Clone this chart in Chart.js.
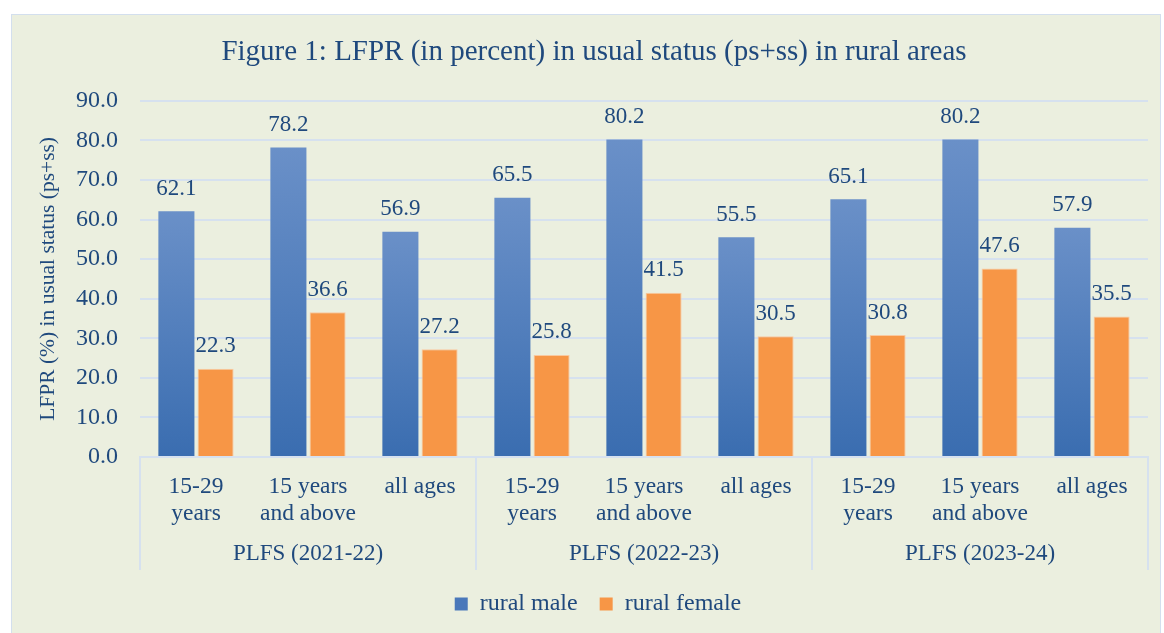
<!DOCTYPE html>
<html lang="en">
<head>
    <meta charset="UTF-8">
    <title>LFPR in rural areas</title>
    <script src="https://cdn.jsdelivr.net/npm/chart.js"></script>
    <style>
        body {
            margin: 0;
            padding: 0;
            background-color: #ffffff;
            overflow: hidden;
        }
        .frame {
            position: absolute;
            left: 11px;
            top: 14px;
            width: 1148px;
            height: 630px;
            background-color: #EBEFDF;
            border: 1px solid #D3DFEE;
        }
        canvas {
            display: block;
        }
    </style>
</head>
<body>
    <div class="frame">
        <canvas id="lfprChart" width="1148" height="630"></canvas>
    </div>
    <script>
        // data
        const categories = [
            ['15-29', 'years'], ['15 years', 'and above'], ['all ages'],
            ['15-29', 'years'], ['15 years', 'and above'], ['all ages'],
            ['15-29', 'years'], ['15 years', 'and above'], ['all ages']
        ];
        const groups = ['PLFS (2021-22)', 'PLFS (2022-23)', 'PLFS (2023-24)'];
        const ruralMale = [62.1, 78.2, 56.9, 65.5, 80.2, 55.5, 65.1, 80.2, 57.9];
        const ruralFemale = [22.3, 36.6, 27.2, 25.8, 41.5, 30.5, 30.8, 47.6, 35.5];
        const yTicks = [0, 10, 20, 30, 40, 50, 60, 70, 80, 90];

        const textColor = '#1F497D';
        const lineColor = '#D6E1EF';
        const serif = '"Liberation Serif", "Times New Roman", serif';

        function blueGradient(context) {
            const chart = context.chart;
            const y = chart.scales.y;
            if (!chart.chartArea || !y || context.raw === undefined) return '#4F7CBE';
            const top = y.getPixelForValue(context.raw);
            const bottom = y.getPixelForValue(0);
            const g = chart.ctx.createLinearGradient(0, top, 0, bottom);
            g.addColorStop(0, '#6A90C8');
            g.addColorStop(1, '#3A6DB0');
            return g;
        }

        // title and legend sit a little right of the canvas centre in the original
        const nudgeBlocks = {
            id: 'nudgeBlocks',
            afterLayout(chart) {
                if (chart.titleBlock) {
                    chart.titleBlock.left += 14;
                    chart.titleBlock.right += 14;
                }
                if (chart.legend) {
                    chart.legend.left += 18;
                    chart.legend.right += 18;
                }
            }
        };

        // value labels above each bar
        const valueLabels = {
            id: 'valueLabels',
            afterDatasetsDraw(chart) {
                const ctx = chart.ctx;
                ctx.save();
                ctx.font = '23px ' + serif;
                ctx.fillStyle = textColor;
                ctx.textAlign = 'center';
                ctx.textBaseline = 'bottom';
                chart.data.datasets.forEach((ds, i) => {
                    chart.getDatasetMeta(i).data.forEach((bar, j) => {
                        ctx.fillText(ds.data[j].toFixed(1), bar.x, bar.y - 11);
                    });
                });
                ctx.restore();
            }
        };

        // group labels and dividers under the category axis
        const groupAxis = {
            id: 'groupAxis',
            afterDraw(chart) {
                const ctx = chart.ctx;
                const x = chart.scales.x;
                const area = chart.chartArea;
                const step = x.getPixelForValue(1) - x.getPixelForValue(0);
                const per = categories.length / groups.length;
                ctx.save();
                ctx.strokeStyle = lineColor;
                ctx.lineWidth = 2;
                for (let g = 0; g <= groups.length; g++) {
                    const px = x.getPixelForValue(g * per) - step / 2;
                    ctx.beginPath();
                    ctx.moveTo(px, area.bottom);
                    ctx.lineTo(px, x.bottom);
                    ctx.stroke();
                }
                ctx.font = '23px ' + serif;
                ctx.fillStyle = textColor;
                ctx.textAlign = 'center';
                ctx.textBaseline = 'middle';
                groups.forEach((name, g) => {
                    const cx = x.getPixelForValue(g * per + (per - 1) / 2);
                    ctx.fillText(name, cx, area.bottom + 97);
                });
                ctx.restore();
            }
        };

        new Chart(document.getElementById('lfprChart'), {
            type: 'bar',
            data: {
                labels: categories,
                datasets: [{
                    label: 'rural male',
                    data: ruralMale,
                    backgroundColor: blueGradient,
                    borderWidth: 0,
                    categoryPercentage: 0.7,
                    barPercentage: 0.92
                }, {
                    label: 'rural female',
                    data: ruralFemale,
                    backgroundColor: '#F79646',
                    borderColor: '#F9C9A0',
                    borderWidth: 1,
                    categoryPercentage: 0.7,
                    barPercentage: 0.92
                }]
            },
            options: {
                responsive: false,
                animation: false,
                layout: { padding: { left: 0, right: 12, top: 0, bottom: 19 } },
                plugins: {
                    title: {
                        display: true,
                        text: 'Figure 1: LFPR (in percent) in usual status (ps+ss) in rural areas',
                        color: textColor,
                        font: { family: serif, size: 29, weight: 'normal', lineHeight: 1.2 },
                        padding: { top: 20, bottom: 31 }
                    },
                    legend: {
                        position: 'bottom',
                        labels: {
                            color: textColor,
                            font: { family: serif, size: 24 },
                            boxWidth: 13,
                            boxHeight: 13,
                            padding: 22,
                            generateLabels(chart) {
                                return chart.data.datasets.map((ds, i) => ({
                                    text: ds.label,
                                    fillStyle: i === 0 ? '#4A78BA' : '#F79646',
                                    strokeStyle: i === 0 ? '#4A78BA' : '#F79646',
                                    lineWidth: 0,
                                    fontColor: textColor,
                                    datasetIndex: i
                                }));
                            }
                        }
                    },
                    tooltip: { enabled: false }
                },
                scales: {
                    x: {
                        grid: { display: false },
                        border: { display: true, color: lineColor, width: 2 },
                        ticks: {
                            color: textColor,
                            font: { family: serif, size: 23.5, lineHeight: 1.17 },
                            padding: 8,
                            maxRotation: 0,
                            autoSkip: false
                        },
                        afterFit(scale) { scale.height = 113; }
                    },
                    y: {
                        min: 0,
                        max: 90,
                        afterBuildTicks(scale) { scale.ticks = yTicks.map(v => ({ value: v })); },
                        grid: { color: lineColor, lineWidth: 2, drawTicks: false },
                        border: { display: false },
                        ticks: {
                            color: textColor,
                            font: { family: serif, size: 24 },
                            padding: 22,
                            callback: v => v.toFixed(1)
                        },
                        title: {
                            display: true,
                            text: 'LFPR (%) in usual status (ps+ss)',
                            color: textColor,
                            font: { family: serif, size: 21.5 },
                            padding: { top: 23, bottom: 0 }
                        },
                        afterFit(scale) { scale.width = 128; }
                    }
                }
            },
            plugins: [nudgeBlocks, valueLabels, groupAxis]
        });
    </script>
</body>
</html>
